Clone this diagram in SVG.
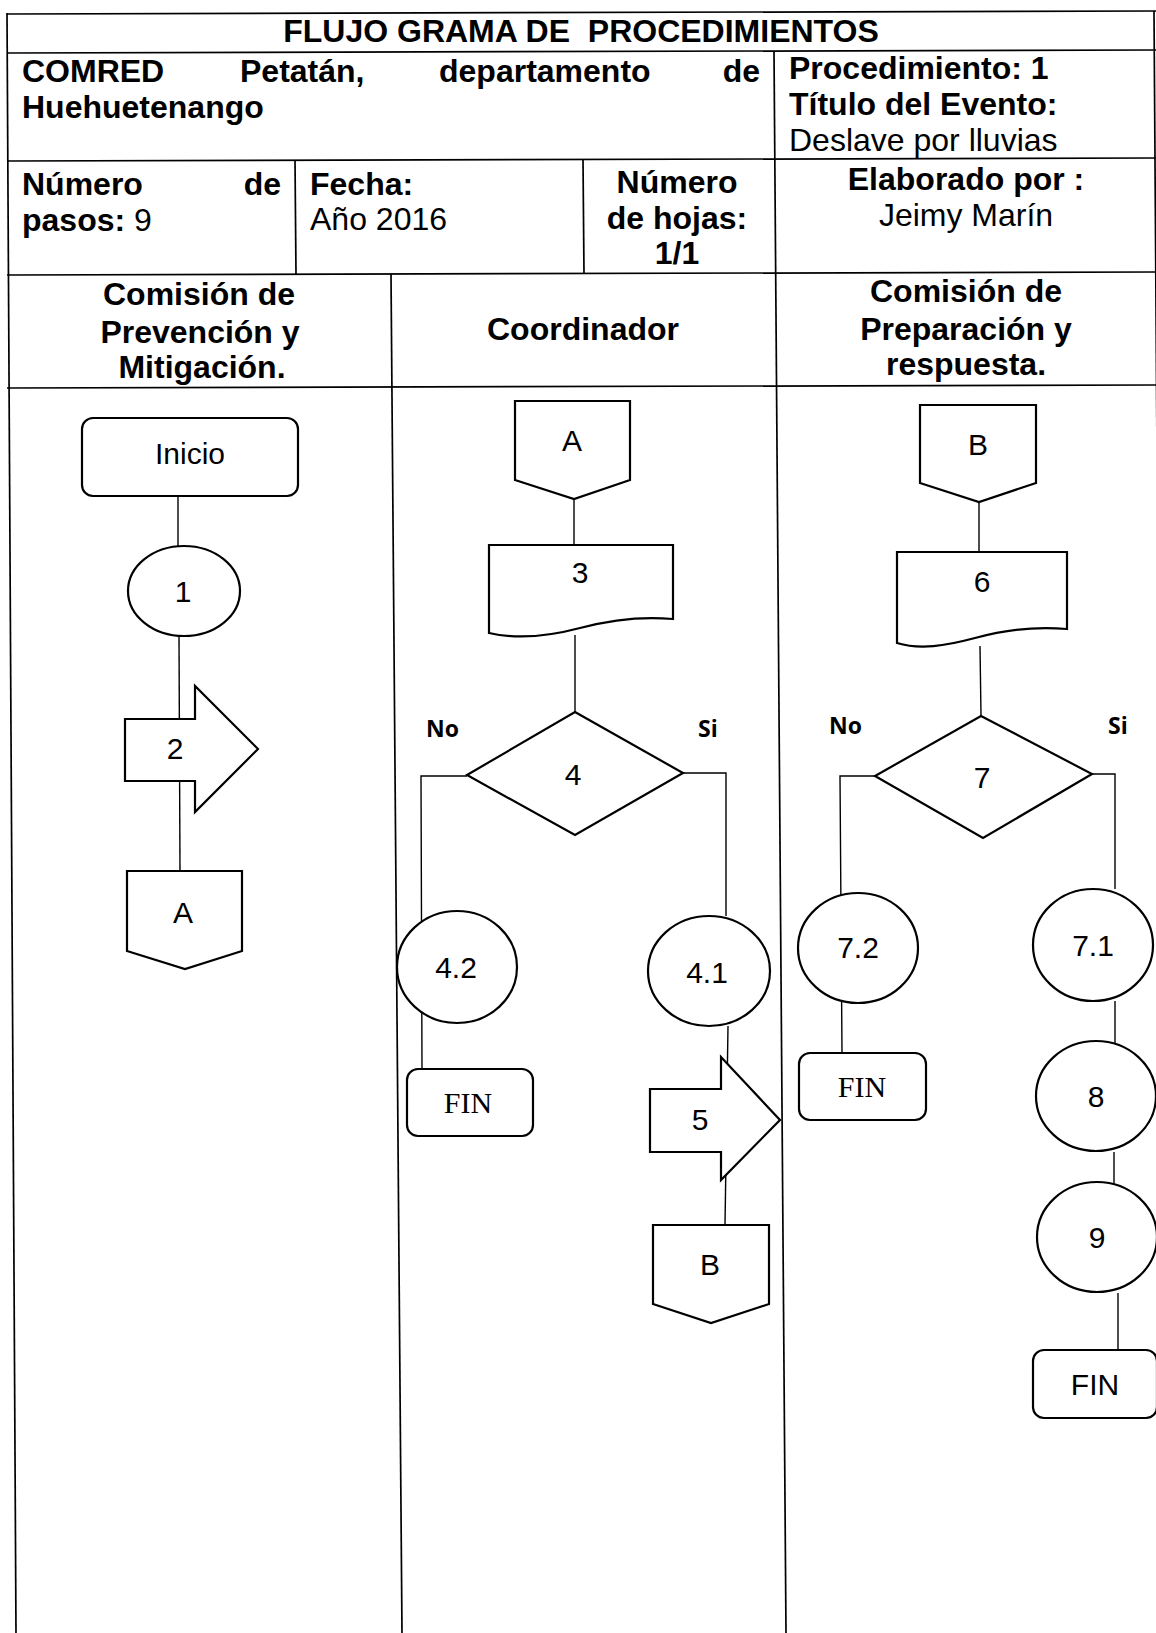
<svg xmlns="http://www.w3.org/2000/svg" width="1156" height="1633" viewBox="0 0 1156 1633">
<style>
.grid{stroke:#000;stroke-width:1.7;fill:none}
.hb{font-family:"Liberation Sans",Arial,sans-serif;font-weight:bold;font-size:32px;fill:#000}
.hr{font-family:"Liberation Sans",Arial,sans-serif;font-size:32px;fill:#000}
.shape{fill:#fff;stroke:#000;stroke-width:2.2}
.lbl{font-family:"Liberation Sans",Arial,sans-serif;font-size:30px;fill:#000;text-anchor:middle}
.fin{font-family:"Liberation Serif","Times New Roman",serif;font-size:30px;fill:#000;text-anchor:middle}
.yn{font-family:"Open Sans","DejaVu Sans",sans-serif;font-weight:bold;font-size:23px;fill:#000}
.conn{stroke:#000;stroke-width:1.4;fill:none}
</style>
<rect width="1156" height="1633" fill="#fff"/>
<g id="table">
<line class="grid" x1="7" y1="14" x2="1156" y2="11"/>
<line class="grid" x1="7" y1="53" x2="1156" y2="50"/>
<line class="grid" x1="7" y1="161" x2="1156" y2="158"/>
<line class="grid" x1="7" y1="275" x2="1156" y2="272"/>
<line class="grid" x1="7" y1="388" x2="1156" y2="385"/>
<line class="grid" x1="7" y1="13" x2="16" y2="1633"/>
<line class="grid" x1="1154" y1="11" x2="1165" y2="1633"/>
<line class="grid" x1="774" y1="52" x2="786" y2="1633"/>
<line class="grid" x1="295" y1="160" x2="296" y2="274"/>
<line class="grid" x1="583" y1="160" x2="584" y2="274"/>
<line class="grid" x1="391" y1="274" x2="402" y2="1633"/>
</g>
<g id="header-text">
<text class="hb" x="581" y="42" text-anchor="middle" xml:space="preserve">FLUJO GRAMA DE  PROCEDIMIENTOS</text>
<text class="hb" y="82"><tspan x="22">COMRED</tspan><tspan x="240">Petatán,</tspan><tspan x="439">departamento</tspan><tspan x="760" text-anchor="end">de</tspan></text>
<text class="hb" x="22" y="118">Huehuetenango</text>
<text class="hb" x="789" y="79">Procedimiento: 1</text>
<text class="hb" x="789" y="115">Título del Evento:</text>
<text class="hr" x="789" y="151">Deslave por lluvias</text>
<text class="hb" y="195"><tspan x="22">Número</tspan><tspan x="281" text-anchor="end">de</tspan></text>
<text class="hb" x="22" y="231">pasos:<tspan class="hr" font-weight="normal"> 9</tspan></text>
<text class="hb" x="310" y="195">Fecha:</text>
<text class="hr" x="310" y="230">Año 2016</text>
<text class="hb" x="677" y="193" text-anchor="middle">Número</text>
<text class="hb" x="677" y="229" text-anchor="middle">de hojas:</text>
<text class="hb" x="677" y="264" text-anchor="middle">1/1</text>
<text class="hb" x="966" y="190" text-anchor="middle">Elaborado por :</text>
<text class="hr" x="966" y="226" text-anchor="middle">Jeimy Marín</text>
<text class="hb" x="199" y="305" text-anchor="middle">Comisión de</text>
<text class="hb" x="200" y="343" text-anchor="middle">Prevención y</text>
<text class="hb" x="202" y="378" text-anchor="middle">Mitigación.</text>
<text class="hb" x="583" y="340" text-anchor="middle">Coordinador</text>
<text class="hb" x="966" y="302" text-anchor="middle">Comisión de</text>
<text class="hb" x="966" y="340" text-anchor="middle">Preparación y</text>
<text class="hb" x="966" y="375" text-anchor="middle">respuesta.</text>
</g>
<g id="connectors">
<line class="conn" x1="178" y1="496" x2="178" y2="546"/>
<line class="conn" x1="179" y1="636" x2="180" y2="871"/>
<line class="conn" x1="574" y1="499" x2="574" y2="545"/>
<line class="conn" x1="575" y1="635" x2="575" y2="712"/>
<polyline class="conn" points="467,776 421,776 422,1069"/>
<polyline class="conn" points="683,773 726,773 726,916"/>
<line class="conn" x1="728" y1="1026" x2="725" y2="1225"/>
<line class="conn" x1="979" y1="502" x2="979" y2="552"/>
<line class="conn" x1="980" y1="646" x2="981" y2="716"/>
<polyline class="conn" points="875,776 840,776 842,1053"/>
<polyline class="conn" points="1092,774 1115,774 1115,889"/>
<line class="conn" x1="1115" y1="1001" x2="1115" y2="1043"/>
<line class="conn" x1="1114" y1="1152" x2="1114" y2="1183"/>
<line class="conn" x1="1118" y1="1293" x2="1118" y2="1350"/>
</g>
<g id="inicio"><rect class="shape" x="82" y="418" width="216" height="78" rx="11"/><text class="lbl" x="190" y="464">Inicio</text></g>
<g id="n1"><ellipse class="shape" cx="184" cy="591" rx="56" ry="45"/><text class="lbl" x="183" y="602">1</text></g>
<g id="n2"><path class="shape" d="M125,719 H195 V686 L258,749 L195,812 V781 H125 Z"/><text class="lbl" x="175" y="759">2</text></g>
<g id="connA1"><path class="shape" d="M127,871 H242 V951 L185,969 L127,951 Z"/><text class="lbl" x="183" y="923">A</text></g>
<g id="connA2"><path class="shape" d="M515,401 H630 V480 L574,499 L515,480 Z"/><text class="lbl" x="572" y="451">A</text></g>
<g id="n3"><path class="shape" d="M489,545 H673 V619 C640,616 610,620 580,628 C550,636 520,640 489,633 Z"/><text class="lbl" x="580" y="583">3</text></g>
<g id="n4"><path class="shape" d="M575,712 L683,773 L575,835 L467,775 Z"/><text class="lbl" x="573" y="785">4</text></g>
<g id="lbl4"><text class="yn" x="426" y="737">No</text><text class="yn" x="698" y="737">Si</text></g>
<g id="n42"><ellipse class="shape" cx="457" cy="967" rx="60" ry="56"/><text class="lbl" x="456" y="978">4.2</text></g>
<g id="fin1"><rect class="shape" x="407" y="1069" width="126" height="67" rx="11"/><text class="fin" x="468" y="1113">FIN</text></g>
<g id="n41"><ellipse class="shape" cx="709" cy="971" rx="61" ry="55"/><text class="lbl" x="707" y="983">4.1</text></g>
<g id="n5"><path class="shape" d="M650,1089 H721 V1057 L780,1120 L721,1180 V1152 H650 Z"/><text class="lbl" x="700" y="1130">5</text></g>
<g id="connB1"><path class="shape" d="M653,1225 H769 V1304 L711,1323 L653,1304 Z"/><text class="lbl" x="710" y="1275">B</text></g>
<g id="connB2"><path class="shape" d="M920,405 H1036 V483 L979,502 L920,483 Z"/><text class="lbl" x="978" y="455">B</text></g>
<g id="n6"><path class="shape" d="M897,552 H1067 V629 C1034,626 1004,630 975,638 C945,646 920,650 897,643 Z"/><text class="lbl" x="982" y="592">6</text></g>
<g id="n7"><path class="shape" d="M981,716 L1092,774 L983,838 L875,776 Z"/><text class="lbl" x="982" y="788">7</text></g>
<g id="lbl7"><text class="yn" x="829" y="734">No</text><text class="yn" x="1108" y="734">Si</text></g>
<g id="n72"><ellipse class="shape" cx="858" cy="948" rx="60" ry="55"/><text class="lbl" x="858" y="958">7.2</text></g>
<g id="fin2"><rect class="shape" x="799" y="1053" width="127" height="67" rx="11"/><text class="fin" x="862" y="1097">FIN</text></g>
<g id="n71"><ellipse class="shape" cx="1093" cy="945" rx="60" ry="56"/><text class="lbl" x="1093" y="956">7.1</text></g>
<g id="n8"><ellipse class="shape" cx="1096" cy="1096" rx="60" ry="55"/><text class="lbl" x="1096" y="1107">8</text></g>
<g id="n9"><ellipse class="shape" cx="1097" cy="1237" rx="60" ry="55"/><text class="lbl" x="1097" y="1248">9</text></g>
<g id="fin3"><rect class="shape" x="1033" y="1350" width="124" height="68" rx="11"/><text class="lbl" x="1095" y="1395">FIN</text></g>
</svg>
